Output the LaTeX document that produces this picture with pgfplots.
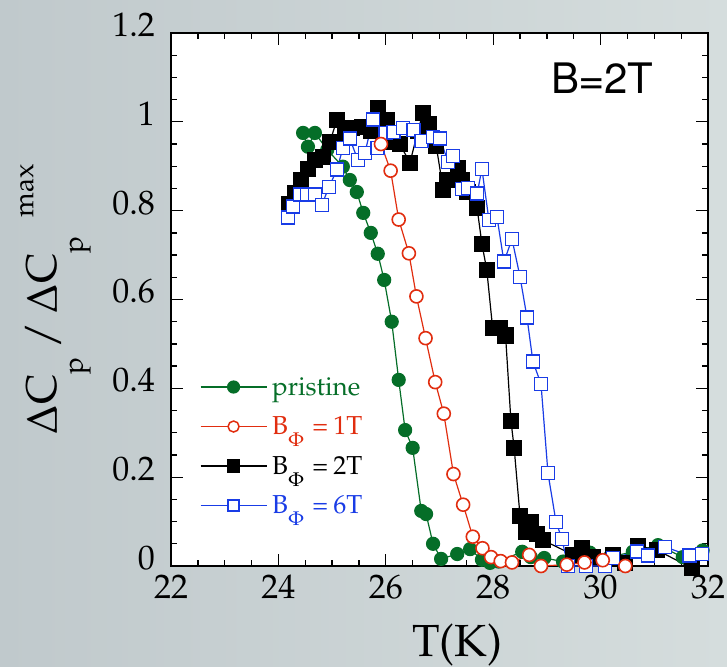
\documentclass[border=0pt]{standalone}
\usepackage[T1]{fontenc}
\usepackage{mathpazo}
\usepackage{pgfplots}
\pgfplotsset{compat=1.18}
\definecolor{cgreen}{RGB}{5,110,40}
\definecolor{cred}{RGB}{225,45,15}
\definecolor{cblue}{RGB}{25,60,230}
\definecolor{bgL}{RGB}{192,201,204}
\definecolor{bgR}{RGB}{213,221,221}
\newcommand{\bphi}{B$_{\raisebox{-0.3em}{$\scriptstyle\Phi$}}$\hspace{0.3em}=\hspace{0.2em}}
\begin{document}
\begin{tikzpicture}[x=1pt,y=1pt]
\shade[left color=bgL, right color=bgR] (0,0) rectangle (727,666);
\begin{axis}[
  at={(171pt,100pt)}, anchor=south west,
  scale only axis, width=537pt, height=533pt,
  xmin=22, xmax=32, ymin=0, ymax=1.2,
  clip=false,
  axis background/.style={fill=white},
  axis line style={line width=1.6pt},
  every tick/.style={line width=1.3pt, black},
  tick align=inside,
  major tick length=12pt, minor tick length=6pt,
  xtick={22,24,...,32}, minor x tick num=3,
  ytick={0,0.2,0.4,0.6,0.8,1.0,1.2},
  yticklabels={0,0.2,0.4,0.6,0.8,1,1.2},
  minor y tick num=3,
  tick label style={font=\fontsize{34}{40}\selectfont},
  xticklabel style={inner sep=0pt, yshift=-9pt, anchor=north},
  yticklabel style={inner sep=0pt, xshift=-16pt, yshift=8pt, anchor=east},
  xlabel={\fontsize{45}{45}\selectfont T(K)},
  xlabel style={at={(axis description cs:0.533,0)}, anchor=base, yshift=-90pt},
  ylabel={\fontsize{43}{43}\selectfont $\Delta$C\raisebox{-0.6em}{\fontsize{28}{28}\selectfont p}\hspace{0.2em}/\hspace{0.2em}$\Delta$C\raisebox{-0.6em}{\fontsize{28}{28}\selectfont p}\hspace{0.45em}\raisebox{0.55em}{\fontsize{28}{28}\selectfont max}},
  ylabel style={at={(axis description cs:-0.2123,0.5)}, anchor=base},
  legend image code/.code={\draw[#1, mark=none] (0pt,0pt) -- (66pt,0pt); \draw[#1] plot coordinates {(33pt,0pt)};},
  legend style={draw=none, fill=none, at={(axis description cs:0.048,0.362)}, anchor=north west,
    font=\fontsize{26}{26}\selectfont, row sep=16pt, column sep=3pt},
  legend cell align=left,
]
\addlegendimage{cgreen, line width=1.2pt, mark=*, mark size=6pt, mark options={solid, fill=cgreen}}
\addlegendentry{\textcolor{cgreen}{pristine}}
\addlegendimage{cred, line width=1.2pt, mark=*, mark size=5.5pt, mark options={solid, fill=white, line width=1.5pt}}
\addlegendentry{\textcolor{cred}{\bphi 1T}}
\addlegendimage{black, line width=1.2pt, mark=square*, mark size=6pt, mark options={solid, fill=black}}
\addlegendentry{\textcolor{black}{\bphi 2T}}
\addlegendimage{cblue, line width=1.2pt, mark=square*, mark size=5.5pt, mark options={solid, fill=white, draw=cblue, line width=1.5pt}}
\addlegendentry{\textcolor{cblue}{\bphi 6T}}

% pristine
\addplot[forget plot, cgreen, line width=1.2pt, mark=*, mark size=6.5pt, mark options={solid, fill=cgreen}] coordinates {
(24.46,0.975)(24.55,0.944)(24.68,0.975)(24.91,0.937)(25.20,0.899)(25.33,0.869)(25.46,0.842)(25.58,0.795)
(25.72,0.750)(25.85,0.703)(25.97,0.644)(26.11,0.550)(26.24,0.419)(26.36,0.306)(26.50,0.266)(26.66,0.124)
(26.75,0.117)(26.88,0.050)(27.03,0.016)(27.33,0.027)(27.57,0.038)(27.79,0.014)(27.94,0.007)(28.10,0.010)
(28.54,0.032)(28.70,0.020)(28.95,0.018)(29.30,0.010)(29.62,0.036)(29.80,0.030)(30.17,0.020)(30.60,0.032)
(31.07,0.047)(31.53,0.020)(31.90,0.035)};

% B_phi = 2T
\addplot[forget plot, black, line width=1.2pt, mark=square*, mark size=7.5pt, mark options={solid, fill=black}] coordinates {
(24.20,0.815)(24.32,0.840)(24.42,0.869)(24.55,0.893)(24.68,0.914)(24.83,0.921)(24.96,0.955)(25.09,1.005)
(25.25,0.970)(25.37,0.986)(25.56,0.989)(25.72,0.980)(25.86,1.031)(26.02,1.005)(26.14,0.955)(26.26,0.950)
(26.45,0.908)(26.60,0.980)(26.69,1.020)(26.80,0.995)(26.94,0.945)(27.07,0.847)(27.14,0.869)(27.35,0.895)
(27.42,0.869)(27.52,0.842)(27.70,0.806)(27.79,0.725)(27.88,0.667)(27.99,0.535)(28.13,0.535)(28.23,0.519)
(28.33,0.327)(28.39,0.266)(28.50,0.112)(28.61,0.076)(28.70,0.099)(28.81,0.072)(28.93,0.058)(29.49,0.025)
(29.65,0.040)(29.86,0.020)(30.23,0.025)(30.45,0.007)(30.70,0.045)(31.05,0.036)(31.70,-0.005)};

% B_phi = 6T
\addplot[forget plot, cblue, line width=1.2pt, mark=square*, mark size=6.5pt, mark options={solid, fill=white, line width=1.6pt}] coordinates {
(24.18,0.784)(24.27,0.809)(24.40,0.836)(24.53,0.836)(24.68,0.836)(24.81,0.813)(24.94,0.853)(25.09,0.892)
(25.20,0.941)(25.33,0.962)(25.48,0.914)(25.61,0.930)(25.76,1.005)(25.84,0.941)(25.99,0.975)(26.14,0.977)
(26.32,0.986)(26.52,0.982)(26.67,0.957)(26.88,0.966)(27.01,0.962)(27.16,0.910)(27.25,0.923)(27.42,0.849)
(27.53,0.851)(27.70,0.838)(27.79,0.894)(27.92,0.779)(28.07,0.786)(28.20,0.685)(28.35,0.736)(28.50,0.651)
(28.63,0.559)(28.74,0.460)(28.89,0.410)(29.02,0.209)(29.17,0.099)(29.28,0.061)(29.39,0.000)(29.73,0.000)
(30.08,0.000)(30.23,0.018)(30.68,0.032)(30.88,0.023)(31.20,0.043)(31.66,0.023)(31.89,0.027)};

% B_phi = 1T
\addplot[forget plot, cred, line width=1.2pt, mark=*, mark size=6.5pt, mark options={solid, fill=white, line width=1.6pt}] coordinates {
(25.91,0.950)(26.09,0.890)(26.24,0.780)(26.43,0.704)(26.57,0.607)(26.74,0.513)(26.92,0.414)(27.08,0.343)
(27.26,0.207)(27.44,0.138)(27.62,0.066)(27.80,0.040)(27.96,0.020)(28.14,0.011)(28.35,0.008)(28.67,0.025)
(28.89,0.000)(29.37,0.003)(29.70,0.008)(30.04,0.013)(30.46,0.000)};

\node[anchor=base west, font=\usefont{T1}{phv}{m}{n}\fontsize{42}{42}\selectfont] at (axis description cs:0.702,0.887) {B=2T};
\end{axis}
\end{tikzpicture}
\end{document}
